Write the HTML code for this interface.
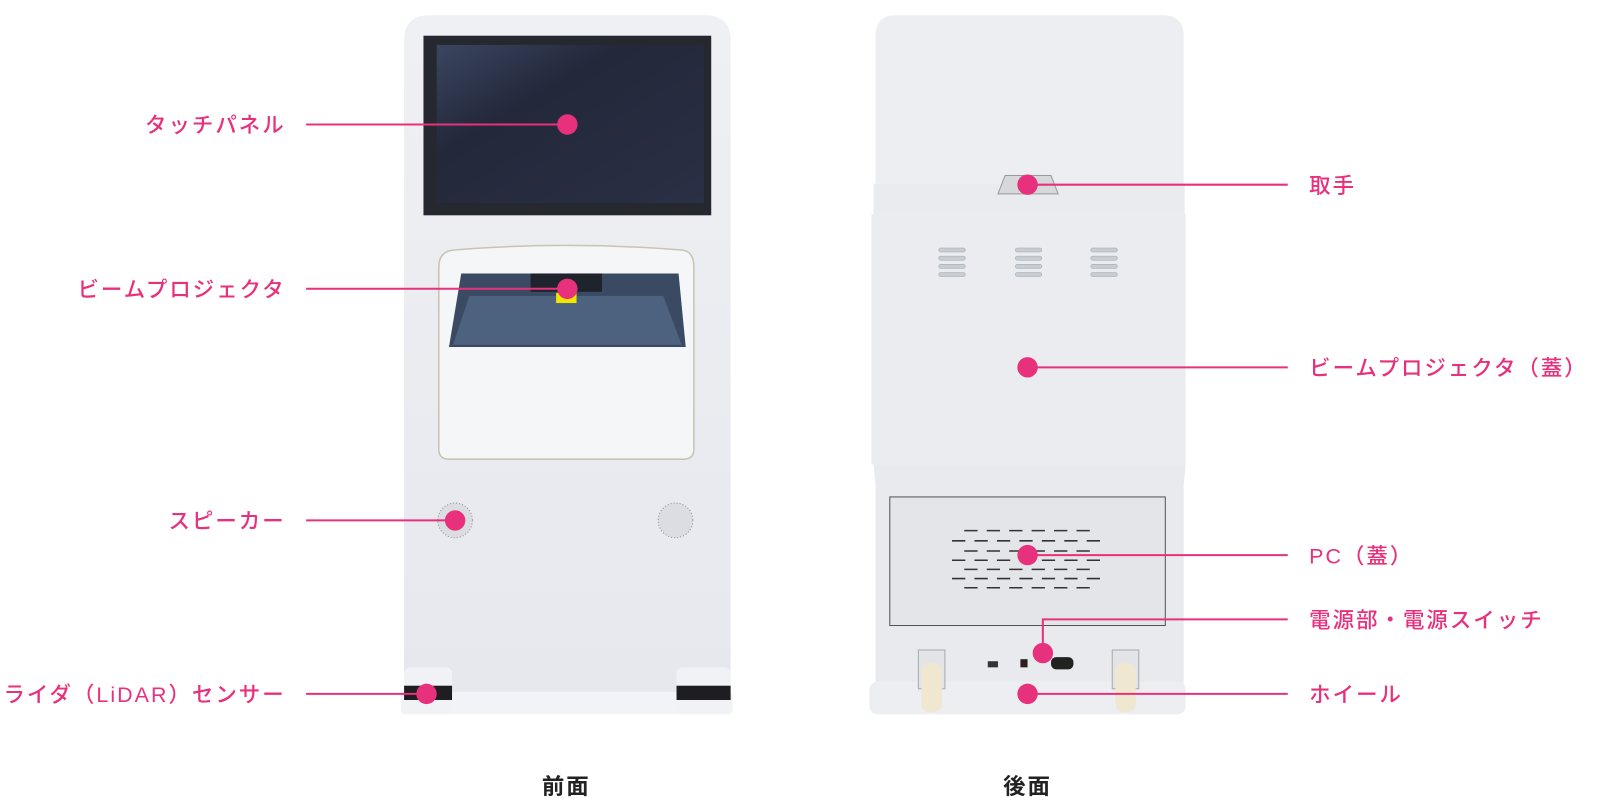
<!DOCTYPE html>
<html><head><meta charset="utf-8"><style>
html,body{margin:0;padding:0;background:#fff;}
svg{display:block}
.l{font-family:"Liberation Sans","Noto Sans CJK JP",sans-serif;font-size:21px;fill:#e8317c;font-weight:500;letter-spacing:2px}
.c{font-family:"Liberation Sans","Noto Sans CJK JP",sans-serif;font-size:22px;fill:#222;font-weight:700;letter-spacing:2px}
</style></head><body>
<svg width="1600" height="800" viewBox="0 0 1568 784" preserveAspectRatio="none" xmlns="http://www.w3.org/2000/svg">
<defs>
<linearGradient id="scr" x1="0" y1="0" x2="1" y2="1"><stop offset="0" stop-color="#3a4660"/><stop offset="0.35" stop-color="#23283a"/><stop offset="1" stop-color="#2a3045"/></linearGradient>
<linearGradient id="body" x1="0" y1="0" x2="0" y2="1"><stop offset="0" stop-color="#eef0f3"/><stop offset="1" stop-color="#e6e8ee"/></linearGradient>
</defs>
<!-- FRONT -->
<path d="M396 40 Q396 15 421 15 L691 15 Q716 15 716 40 L716 690 L396 690 Z" fill="url(#body)"/>
<rect x="393" y="678" width="325" height="22" rx="4" fill="#f2f3f6"/>
<rect x="415" y="35" width="282" height="176" fill="#26282f"/>
<rect x="428" y="44" width="262" height="155" fill="url(#scr)"/>
<path d="M430 262 Q430 246 445 245 Q555 236 668 245 Q680 246 680 262 L680 440 Q680 450 670 450 L440 450 Q430 450 430 440 Z" fill="#f5f6f8" stroke="#c9c3b5" stroke-width="1.5"/>
<path d="M452 268 L665 268 L672 340 L440 340 Z" fill="#3b4a63"/>
<path d="M460 290 L650 290 L668 338 L444 338 Z" fill="#4d627f"/>
<rect x="520" y="268" width="70" height="18" fill="#1f242c"/>
<rect x="545" y="287" width="20" height="10" fill="#f2e600"/>
<circle cx="446" cy="510" r="17" fill="#dcdde2" stroke="#8a8c92" stroke-width="1" stroke-dasharray="1 2"/>
<circle cx="662" cy="510" r="17" fill="#dcdde2" stroke="#8a8c92" stroke-width="1" stroke-dasharray="1 2"/>
<rect x="396" y="654" width="47" height="44" rx="6" fill="#f1f2f5"/>
<rect x="396" y="672" width="47" height="14" fill="#1e1e22"/>
<rect x="663" y="654" width="53" height="44" rx="6" fill="#f1f2f5"/>
<rect x="663" y="672" width="53" height="14" fill="#1e1e22"/>
<!-- BACK -->
<path d="M858 35 Q858 15 878 15 L1140 15 Q1160 15 1160 35 L1160 180 L858 180 Z" fill="#eceef1"/>
<rect x="856" y="180" width="305" height="30" fill="#e9ebee"/>
<rect x="854" y="210" width="308" height="245" fill="#eaecef"/>
<path d="M856 455 L1162 455 L1160 475 L1160 690 L858 690 L858 475 Z" fill="#e8eaee"/>
<rect x="872" y="487" width="270" height="126" fill="#e3e5e9" stroke="#555" stroke-width="1"/>
<path d="M978 190 L985 172 L1030 172 L1037 190 Z" fill="#d6d8dc" stroke="#999"/>
<g fill="#c9ccd2" stroke="#9aa" stroke-width="0.5">
<rect x="920" y="243" width="26" height="4" rx="2"/><rect x="920" y="251" width="26" height="4" rx="2"/><rect x="920" y="259" width="26" height="4" rx="2"/><rect x="920" y="267" width="26" height="4" rx="2"/>
<rect x="995" y="243" width="26" height="4" rx="2"/><rect x="995" y="251" width="26" height="4" rx="2"/><rect x="995" y="259" width="26" height="4" rx="2"/><rect x="995" y="267" width="26" height="4" rx="2"/>
<rect x="1069" y="243" width="26" height="4" rx="2"/><rect x="1069" y="251" width="26" height="4" rx="2"/><rect x="1069" y="259" width="26" height="4" rx="2"/><rect x="1069" y="267" width="26" height="4" rx="2"/>
</g>
<g stroke="#333" stroke-width="1.5" stroke-dasharray="13 9">
<line x1="945" y1="520" x2="1070" y2="520"/><line x1="933" y1="530" x2="1083" y2="530"/>
<line x1="945" y1="540" x2="1070" y2="540"/><line x1="933" y1="549" x2="1083" y2="549"/>
<line x1="945" y1="558" x2="1070" y2="558"/><line x1="933" y1="567" x2="1083" y2="567"/>
<line x1="945" y1="576" x2="1070" y2="576"/>
</g>
<rect x="852" y="668" width="310" height="32" rx="8" fill="#eceef2"/>
<rect x="900" y="637" width="26" height="38" fill="#e2e4e8" stroke="#aaa"/>
<rect x="903" y="650" width="20" height="48" rx="8" fill="#efe7cf"/>
<rect x="1090" y="637" width="26" height="38" fill="#e2e4e8" stroke="#aaa"/>
<rect x="1093" y="650" width="20" height="48" rx="8" fill="#efe7cf"/>
<rect x="968" y="648" width="10" height="6" fill="#333"/>
<rect x="1000" y="646" width="7" height="8" fill="#2a2020"/>
<rect x="1030" y="644" width="22" height="12" rx="5" fill="#222"/>
<!-- connectors -->
<g stroke="#e8317c" stroke-width="2" fill="none">
<line x1="300" y1="122" x2="556" y2="122"/>
<line x1="300" y1="283" x2="556" y2="283"/>
<line x1="300" y1="510" x2="446" y2="510"/>
<line x1="300" y1="680" x2="418" y2="680"/>
<line x1="1007" y1="181" x2="1262" y2="181"/>
<line x1="1007" y1="360" x2="1262" y2="360"/>
<line x1="1007" y1="544" x2="1262" y2="544"/>
<polyline points="1022,640 1022,607 1262,607"/>
<line x1="1007" y1="680" x2="1262" y2="680"/>
</g>
<g fill="#e8317c">
<circle cx="556" cy="122" r="10"/><circle cx="556" cy="283" r="10"/><circle cx="446" cy="510" r="10"/><circle cx="418" cy="680" r="10"/>
<circle cx="1007" cy="181" r="10"/><circle cx="1007" cy="360" r="10"/><circle cx="1007" cy="544" r="10"/><circle cx="1022" cy="640" r="10"/><circle cx="1007" cy="680" r="10"/>
</g>
<g class="l">
<text x="280" y="130" text-anchor="end">タッチパネル</text>
<text x="280" y="291" text-anchor="end">ビームプロジェクタ</text>
<text x="280" y="518" text-anchor="end">スピーカー</text>
<text x="280" y="688" text-anchor="end">ライダ（LiDAR）センサー</text>
<text x="1283" y="189">取手</text>
<text x="1283" y="368">ビームプロジェクタ（蓋）</text>
<text x="1283" y="552">PC（蓋）</text>
<text x="1283" y="615">電源部・電源スイッチ</text>
<text x="1283" y="688">ホイール</text>
</g>
<text class="c" x="555" y="778" text-anchor="middle">前面</text>
<text class="c" x="1007" y="778" text-anchor="middle">後面</text>
</svg>
</body></html>
